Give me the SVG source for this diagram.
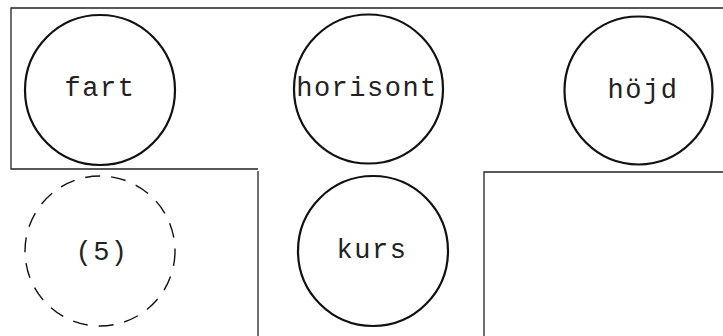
<svg xmlns="http://www.w3.org/2000/svg" width="723" height="336" viewBox="0 0 723 336">
<style>
.c{fill:none;stroke:#111;stroke-width:2.2}
.d{fill:none;stroke:#111;stroke-width:1.4;stroke-dasharray:15 11}
.o{fill:none;stroke:#222;stroke-width:1.3}
.t{font-family:"Liberation Mono","Courier New",monospace;font-size:27px;letter-spacing:1.5px;fill:#222;text-anchor:middle}
</style>
<rect width="723" height="336" fill="#fff"/>
<g id="outline">
<path class="o" d="M723 8H11V169H258M258 171V336M484 336V172H723"/>
</g>
<g id="fart"><circle class="c" cx="100" cy="90" r="75"/><text class="t" x="100" y="96">fart</text></g>
<g id="horisont"><circle class="c" cx="368.5" cy="89" r="74.5"/><text class="t" x="367" y="96">horisont</text></g>
<g id="hojd"><circle class="c" cx="638.5" cy="90.5" r="74"/><text class="t" x="643" y="98">höjd</text></g>
<g id="kurs"><circle class="c" cx="373" cy="251" r="75"/><text class="t" x="372" y="258">kurs</text></g>
<g id="n5"><circle class="d" cx="100" cy="251" r="75"/><text class="t" x="102" y="260">(5)</text></g>
<g id="connectors"></g>
</svg>
